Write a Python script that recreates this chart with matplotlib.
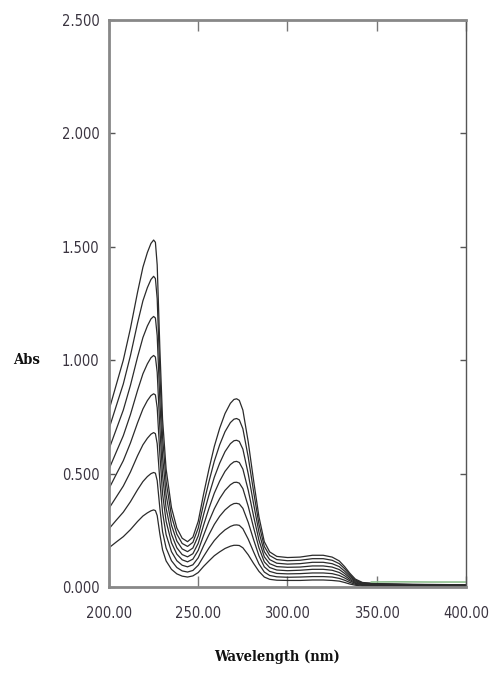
import matplotlib
matplotlib.use("Agg")
import os
import matplotlib.pyplot as plt
from matplotlib import font_manager
from matplotlib.font_manager import FontProperties

wavelength = [200, 204, 208, 212, 216, 219, 221.5, 223.5, 225, 226, 227, 228.5, 230, 232, 235, 238,
              241, 244, 247, 250, 253, 256, 259, 262, 265, 268, 270, 271.5, 273, 275, 278, 281,
              284, 287, 290, 294, 300, 307, 314, 320, 325, 329, 332, 335, 338, 342, 350, 370, 400]

abs_1 = [0.78, 0.89, 1.00, 1.14, 1.30, 1.41, 1.475, 1.515, 1.53, 1.52, 1.42, 1.05, 0.74, 0.52, 0.35, 0.26,
         0.215, 0.20, 0.22, 0.29, 0.41, 0.52, 0.62, 0.70, 0.765, 0.81, 0.827, 0.83, 0.823, 0.78, 0.64, 0.47,
         0.31, 0.20, 0.155, 0.135, 0.13, 0.132, 0.14, 0.14, 0.132, 0.115, 0.09, 0.06, 0.035, 0.02, 0.015, 0.012, 0.01]
abs_2 = [0.698, 0.797, 0.895, 1.020, 1.164, 1.262, 1.320, 1.356, 1.370, 1.360, 1.271, 0.940, 0.662, 0.465, 0.313, 0.233,
         0.192, 0.179, 0.197, 0.260, 0.367, 0.465, 0.555, 0.627, 0.685, 0.725, 0.740, 0.743, 0.737, 0.698, 0.573, 0.421,
         0.277, 0.179, 0.139, 0.121, 0.116, 0.118, 0.125, 0.125, 0.118, 0.103, 0.081, 0.054, 0.031, 0.018, 0.014, 0.011, 0.009]
abs_3 = [0.608, 0.694, 0.780, 0.889, 1.014, 1.100, 1.151, 1.182, 1.193, 1.186, 1.108, 0.819, 0.577, 0.406, 0.273, 0.203,
         0.168, 0.156, 0.172, 0.226, 0.320, 0.406, 0.484, 0.546, 0.597, 0.632, 0.645, 0.647, 0.642, 0.608, 0.499, 0.367,
         0.242, 0.156, 0.121, 0.105, 0.101, 0.103, 0.109, 0.109, 0.103, 0.090, 0.070, 0.047, 0.027, 0.016, 0.012, 0.010, 0.008]
abs_4 = [0.520, 0.594, 0.667, 0.760, 0.867, 0.940, 0.984, 1.011, 1.021, 1.014, 0.947, 0.700, 0.494, 0.347, 0.233, 0.173,
         0.143, 0.133, 0.147, 0.193, 0.273, 0.347, 0.414, 0.467, 0.510, 0.540, 0.552, 0.554, 0.549, 0.520, 0.427, 0.313,
         0.207, 0.133, 0.103, 0.090, 0.087, 0.088, 0.093, 0.093, 0.088, 0.077, 0.060, 0.040, 0.023, 0.013, 0.010, 0.008, 0.007]
abs_5 = [0.434, 0.496, 0.557, 0.635, 0.724, 0.785, 0.822, 0.844, 0.852, 0.847, 0.791, 0.585, 0.412, 0.290, 0.195, 0.145,
         0.120, 0.111, 0.123, 0.162, 0.228, 0.290, 0.345, 0.390, 0.426, 0.451, 0.461, 0.462, 0.458, 0.434, 0.356, 0.262,
         0.173, 0.111, 0.086, 0.075, 0.072, 0.074, 0.078, 0.078, 0.074, 0.064, 0.050, 0.033, 0.019, 0.011, 0.009, 0.007, 0.006]
abs_6 = [0.347, 0.396, 0.445, 0.507, 0.579, 0.627, 0.656, 0.674, 0.681, 0.676, 0.632, 0.467, 0.329, 0.231, 0.156, 0.116,
         0.096, 0.089, 0.098, 0.129, 0.182, 0.231, 0.276, 0.312, 0.340, 0.360, 0.368, 0.369, 0.366, 0.347, 0.285, 0.209,
         0.138, 0.089, 0.069, 0.060, 0.058, 0.059, 0.062, 0.062, 0.059, 0.051, 0.040, 0.027, 0.016, 0.009, 0.007, 0.006, 0.005]
abs_7 = [0.257, 0.294, 0.330, 0.376, 0.429, 0.465, 0.487, 0.500, 0.505, 0.502, 0.469, 0.347, 0.244, 0.172, 0.116, 0.086,
         0.071, 0.066, 0.073, 0.096, 0.135, 0.172, 0.205, 0.231, 0.252, 0.267, 0.273, 0.274, 0.272, 0.257, 0.211, 0.155,
         0.102, 0.066, 0.051, 0.045, 0.043, 0.044, 0.046, 0.046, 0.044, 0.038, 0.030, 0.020, 0.012, 0.007, 0.005, 0.004, 0.004]
abs_8 = [0.173, 0.198, 0.222, 0.253, 0.289, 0.313, 0.327, 0.336, 0.340, 0.337, 0.315, 0.233, 0.164, 0.115, 0.078, 0.058,
         0.048, 0.044, 0.049, 0.064, 0.091, 0.115, 0.138, 0.155, 0.170, 0.180, 0.184, 0.184, 0.183, 0.173, 0.142, 0.104,
         0.069, 0.044, 0.034, 0.030, 0.029, 0.029, 0.031, 0.031, 0.029, 0.026, 0.020, 0.013, 0.008, 0.004, 0.004, 0.003, 0.003]

green_wl = [347, 360, 380, 400]
green_abs = [0.022, 0.023, 0.022, 0.022]

x_ticks = [200, 250, 300, 350, 400]
x_tick_labels = ["200.00", "250.00", "300.00", "350.00", "400.00"]
y_ticks = [0.0, 0.5, 1.0, 1.5, 2.0, 2.5]
y_tick_labels = ["0.000", "0.500", "1.000", "1.500", "2.000", "2.500"]


def find_font(candidates, fallback_family, weight="normal"):
    files = {os.path.basename(f.fname): f.fname for f in font_manager.fontManager.ttflist}
    for c in candidates:
        if c in files:
            return FontProperties(fname=files[c])
    return FontProperties(family=fallback_family, weight=weight)


tick_fp = find_font(["LiberationSansNarrow-Regular.ttf", "DejaVuSansCondensed.ttf"], "Liberation Sans")
label_fp = find_font(["DejaVuSerifCondensed-Bold.ttf", "LiberationSansNarrow-Bold.ttf"], "Liberation Serif", "bold")
condensed_ticks = tick_fp.get_file() is not None
tick_fp.set_size(10.5 if condensed_ticks else 10)
label_fp.set_size(10.5)
if label_fp.get_file() is None:
    label_fp.set_weight("bold")

fig = plt.figure(figsize=(5.0, 6.81), dpi=100)
ax = fig.add_axes([0.218, 0.138, 0.714, 0.8326])

for series in [abs_1, abs_2, abs_3, abs_4, abs_5, abs_6, abs_7, abs_8]:
    ax.plot(wavelength, series, color="#2b2b2b", lw=0.9)
ax.plot(green_wl, green_abs, color="#8fc08f", lw=1.2)

ax.set_xlim(200, 400)
ax.set_ylim(0, 2.5)
ax.set_xticks(x_ticks)
ax.set_xticklabels(x_tick_labels, fontproperties=tick_fp)
ax.set_yticks(y_ticks)
ax.set_yticklabels(y_tick_labels, fontproperties=tick_fp)

ax.tick_params(axis="x", direction="in", length=8, width=1, color="#777777",
               top=True, pad=14, labelcolor="#3a3440")
ax.tick_params(axis="y", direction="in", length=4, width=1, color="#555555",
               right=True, pad=7, labelcolor="#3a3440")

for side in ["left", "top", "bottom"]:
    ax.spines[side].set_color("#888888")
    ax.spines[side].set_linewidth(2.0)
ax.spines["right"].set_color("#555555")
ax.spines["right"].set_linewidth(1.0)

fig.text(0.054, 0.471, "Abs", fontproperties=label_fp,
         ha="center", va="center", color="#111111")
fig.text(0.554, 0.035, "Wavelength (nm)", fontproperties=label_fp,
         ha="center", va="center", color="#111111")

fig.savefig("out.png", dpi=100)
